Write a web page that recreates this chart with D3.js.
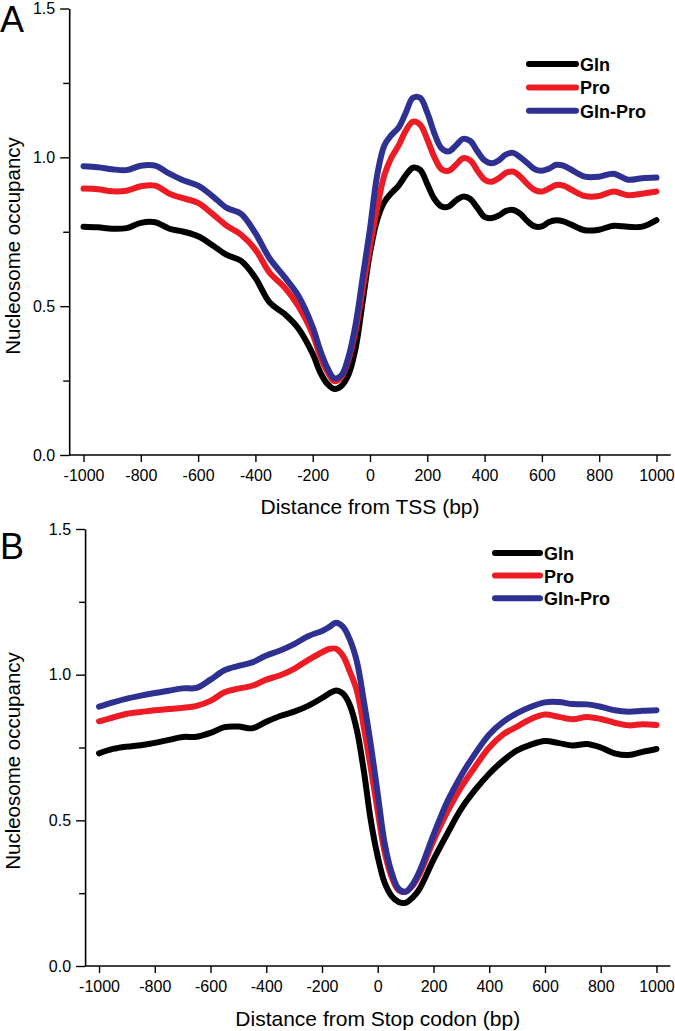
<!DOCTYPE html>
<html>
<head>
<meta charset="utf-8">
<script src="https://cdn.jsdelivr.net/npm/d3@7"></script>
<style>
  html, body { margin: 0; padding: 0; background: #fff; }
  svg { display: block; font-family: "Liberation Sans", Arial, Helvetica, sans-serif; }
</style>
</head>
<body>
<svg id="chart" width="675" height="1031"></svg>
<script>
// ---------- DATA ----------
const seriesNames = ["Gln", "Pro", "Gln-Pro"];
const xTicks = [-1000, -800, -600, -400, -200, 0, 200, 400, 600, 800, 1000];
const xTickLabels = ["-1000", "-800", "-600", "-400", "-200", "0", "200", "400", "600", "800", "1000"];
const yTicks = [0, 0.5, 1.0, 1.5];
const yTickLabels = ["0.0", "0.5", "1.0", "1.5"];
const yMinorTicks = [0.25, 0.75, 1.25];

// Panel A: distance from TSS
const tssPos = [-1000,-950,-900,-850,-800,-750,-700,-650,-600,-550,-500,-450,-400,-350,-300,-250,-200,
  -175,-150,-125,-100,-75,-50,-25,0,25,50,75,100,125,150,175,200,225,250,275,300,325,350,375,400,425,450,475,500,525,550,575,600,625,650,675,700,
  750,800,850,900,950,1000];
const tssGln = [0.767,0.765,0.760,0.762,0.780,0.782,0.760,0.750,0.735,0.705,0.672,0.652,0.595,0.512,0.475,0.425,0.340,
  0.280,0.240,0.222,0.232,0.270,0.360,0.520,0.680,0.790,0.850,0.880,0.905,0.940,0.965,0.958,0.910,0.860,0.835,0.835,0.855,0.868,0.860,0.830,0.800,0.796,0.805,0.820,0.823,0.810,0.785,0.768,0.768,0.783,0.789,0.785,0.775,
  0.755,0.757,0.770,0.767,0.767,0.789];
const tssPro = [0.895,0.893,0.886,0.888,0.903,0.905,0.878,0.862,0.847,0.810,0.770,0.740,0.690,0.612,0.565,0.500,0.405,
  0.335,0.282,0.248,0.262,0.320,0.420,0.560,0.700,0.830,0.940,1.000,1.040,1.090,1.120,1.110,1.060,1.000,0.960,0.955,0.975,0.997,0.990,0.955,0.925,0.918,0.930,0.948,0.952,0.935,0.910,0.890,0.885,0.895,0.907,0.905,0.893,
  0.870,0.870,0.885,0.873,0.878,0.885];
const tssGlnPro = [0.970,0.967,0.960,0.957,0.972,0.972,0.945,0.922,0.905,0.870,0.830,0.810,0.745,0.660,0.600,0.535,0.430,
  0.355,0.295,0.258,0.268,0.330,0.440,0.600,0.760,0.940,1.040,1.075,1.100,1.150,1.200,1.200,1.150,1.080,1.030,1.020,1.040,1.062,1.055,1.020,0.990,0.980,0.990,1.010,1.015,1.000,0.980,0.960,0.955,0.962,0.975,0.972,0.960,
  0.935,0.935,0.945,0.925,0.930,0.932];

// Panel B: distance from stop codon
const stopPos = [-1000,-950,-900,-850,-800,-750,-700,-650,-600,-550,-500,-450,-400,-350,-300,-250,-200,
  -175,-150,-125,-100,-75,-50,-25,0,25,50,75,100,125,150,
  200,250,300,350,400,450,500,550,600,650,700,750,800,850,900,950,1000];
const stopGln = [0.730,0.745,0.753,0.758,0.766,0.776,0.786,0.787,0.800,0.820,0.822,0.816,0.838,0.858,0.873,0.893,0.920,
  0.935,0.946,0.935,0.895,0.810,0.670,0.500,0.375,0.285,0.240,0.220,0.217,0.235,0.265,
  0.365,0.455,0.540,0.605,0.660,0.705,0.740,0.760,0.772,0.765,0.757,0.762,0.750,0.730,0.724,0.735,0.745];
const stopPro = [0.840,0.853,0.866,0.872,0.878,0.882,0.886,0.893,0.910,0.940,0.952,0.962,0.983,0.998,1.020,1.050,1.077,
  1.088,1.089,1.065,1.010,0.945,0.820,0.680,0.530,0.390,0.305,0.260,0.255,0.275,0.315,
  0.430,0.530,0.615,0.685,0.750,0.795,0.822,0.848,0.863,0.855,0.847,0.855,0.848,0.835,0.826,0.830,0.827];
const stopGlnPro = [0.890,0.905,0.918,0.928,0.937,0.945,0.953,0.955,0.983,1.015,1.030,1.042,1.066,1.083,1.105,1.132,1.150,
  1.163,1.178,1.165,1.120,1.045,0.910,0.760,0.590,0.420,0.320,0.265,0.255,0.280,0.325,
  0.450,0.565,0.655,0.730,0.795,0.838,0.868,0.890,0.905,0.906,0.899,0.898,0.890,0.878,0.873,0.876,0.878];

// ---------- STYLE ----------
const colors = ["#000000", "#ed1c24", "#2e3192"];

const svg = d3.select("#chart");

function drawPanel(cfg) {
  const g = svg.append("g");
  const x = d3.scaleLinear().domain([-1050, 1050]).range([cfg.x0, cfg.x1]);
  const y = d3.scaleLinear().domain([0, 1.5]).range([cfg.yBottom, cfg.yTop]);

  // curves
  const line = d3.line()
    .x(d => x(d[0]))
    .y(d => y(d[1]))
    .curve(d3.curveCatmullRom.alpha(0.5));
  cfg.series.forEach((vals, i) => {
    const pts = cfg.pos.map((p, k) => [p, vals[k]]);
    g.append("path")
      .datum(pts)
      .attr("d", line)
      .attr("fill", "none")
      .attr("stroke", colors[i])
      .attr("stroke-width", 6)
      .attr("stroke-linecap", "round")
      .attr("stroke-linejoin", "round");
  });

  // x axis
  const xAxis = d3.axisBottom(x).tickValues(xTicks).tickFormat((d, i) => xTickLabels[i])
    .tickSize(7).tickPadding(8).tickSizeOuter(0);
  const xg = g.append("g").attr("transform", `translate(0,${cfg.yBottom})`).call(xAxis);
  xg.select(".domain").attr("stroke-width", 1.6).attr("d", `M${cfg.x0},0H${cfg.x1}`);
  xg.selectAll(".tick line").attr("stroke-width", 1.4);
  xg.selectAll(".tick text").attr("font-size", 16).attr("font-family", "Liberation Sans, Arial, sans-serif").attr("fill", "#000");

  // y axis
  const yAxis = d3.axisLeft(y).tickValues(yTicks).tickFormat((d, i) => yTickLabels[i]).tickSize(9).tickPadding(5).tickSizeOuter(0);
  const yg = g.append("g").attr("transform", `translate(${cfg.x0},0)`).call(yAxis);
  yg.select(".domain").attr("stroke-width", 1.6);
  yg.selectAll(".tick line").attr("stroke-width", 1.4);
  yg.selectAll(".tick text").attr("font-size", 16).attr("font-family", "Liberation Sans, Arial, sans-serif").attr("fill", "#000");
  const yMinor = d3.axisLeft(y).tickValues(yMinorTicks).tickSize(6).tickFormat("");
  const ym = g.append("g").attr("transform", `translate(${cfg.x0},0)`).call(yMinor);
  ym.select(".domain").remove();
  ym.selectAll(".tick line").attr("stroke-width", 1.4);

  // axis titles
  g.append("text")
    .attr("x", x(0)).attr("y", cfg.xTitleY)
    .attr("text-anchor", "middle")
    .attr("font-size", 21)
    .text(cfg.xTitle);
  g.append("text")
    .attr("transform", `translate(${cfg.yTitleX},${cfg.yTitleY}) rotate(-90)`)
    .attr("text-anchor", "middle")
    .attr("font-size", 20.5)
    .text("Nucleosome occupancy");

  // panel letter
  g.append("text")
    .attr("x", 0).attr("y", cfg.letterY)
    .attr("font-size", 36)
    .text(cfg.letter);

  // legend
  seriesNames.forEach((name, i) => {
    const ly = cfg.legY + i * cfg.legStep;
    g.append("line")
      .attr("x1", cfg.legX1).attr("x2", cfg.legX2)
      .attr("y1", ly).attr("y2", ly)
      .attr("stroke", colors[i]).attr("stroke-width", 6)
      .attr("stroke-linecap", "round");
    g.append("text")
      .attr("x", cfg.legTextX).attr("y", ly + 7)
      .attr("font-size", 18).attr("font-weight", "bold")
      .text(name);
  });
}

drawPanel({
  x0: 69.2, x1: 670.8, yBottom: 455, yTop: 8.5,
  pos: tssPos, series: [tssGln, tssPro, tssGlnPro],
  xTitle: "Distance from TSS (bp)", xTitleY: 514,
  yTitleX: 20, yTitleY: 246,
  letter: "A", letterY: 32,
  legX1: 529, legX2: 576, legTextX: 580, legY: 64, legStep: 23.4
});

drawPanel({
  x0: 85.1, x1: 670.4, yBottom: 966, yTop: 529,
  pos: stopPos, series: [stopGln, stopPro, stopGlnPro],
  xTitle: "Distance from Stop codon (bp)", xTitleY: 1026,
  yTitleX: 20, yTitleY: 761,
  letter: "B", letterY: 559,
  legX1: 495, legX2: 540, legTextX: 544, legY: 553, legStep: 22.6
});
</script>
</body>
</html>
